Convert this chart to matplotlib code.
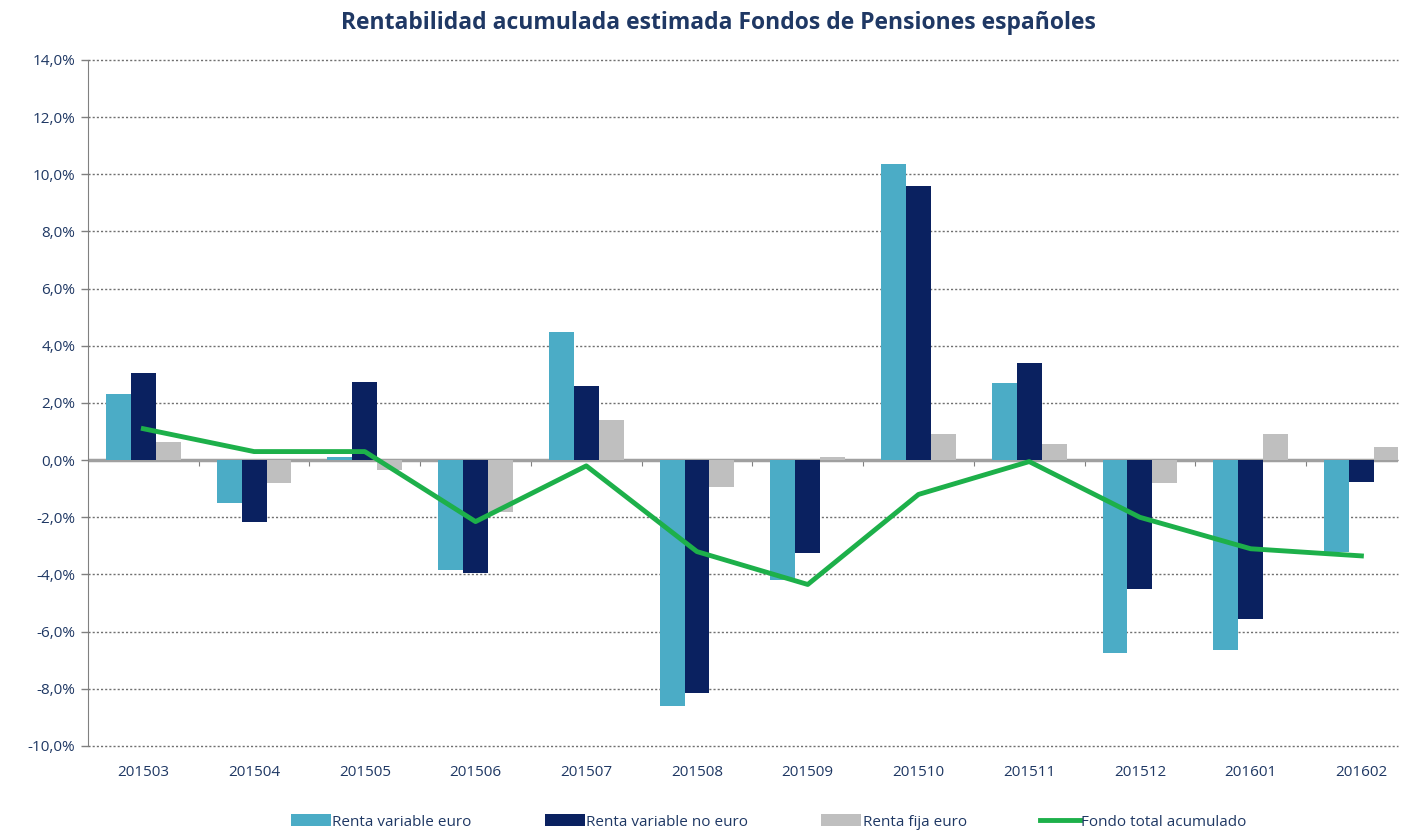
import numpy as np
import matplotlib
matplotlib.use("Agg")
import matplotlib.pyplot as plt
from matplotlib.ticker import FuncFormatter

# data (percent)
meses = ["201503", "201504", "201505", "201506", "201507", "201508",
         "201509", "201510", "201511", "201512", "201601", "201602"]
rv_euro = [2.3, -1.5, 0.1, -3.85, 4.5, -8.6, -4.2, 10.35, 2.7, -6.75, -6.65, -3.2]
rv_no_euro = [3.05, -2.15, 2.75, -3.95, 2.6, -8.15, -3.25, 9.6, 3.4, -4.5, -5.55, -0.75]
rf_euro = [0.65, -0.8, -0.35, -1.8, 1.4, -0.95, 0.12, 0.9, 0.55, -0.8, 0.9, 0.45]
fondo_total = [1.1, 0.3, 0.3, -2.15, -0.2, -3.2, -4.35, -1.2, -0.05, -2.0, -3.1, -3.35]

c_light = "#4BACC6"
c_navy = "#0A2160"
c_gray = "#BFBFBF"
c_green = "#1DB04A"
c_text = "#1F3864"

plt.rcParams['font.family'] = ['Open Sans', 'DejaVu Sans']

fig = plt.figure(figsize=(14.03, 8.32), dpi=100)
ax = fig.add_axes([0.0627, 0.1034, 0.9337, 0.8245])

x = np.arange(len(meses))
w = 0.225
b1 = ax.bar(x - w, rv_euro, w, color=c_light, label="Renta variable euro", zorder=3)
b2 = ax.bar(x, rv_no_euro, w, color=c_navy, label="Renta variable no euro", zorder=3)
b3 = ax.bar(x + w, rf_euro, w, color=c_gray, label="Renta fija euro", zorder=3)
ln, = ax.plot(x, fondo_total, color=c_green, lw=3.5, label="Fondo total acumulado", zorder=4)

ax.set_xlim(-0.5, 11.33)
ax.set_ylim(-10, 14)
ax.set_yticks(np.arange(-10, 15, 2))
ax.yaxis.set_major_formatter(FuncFormatter(lambda v, p: f"{v:.1f}%".replace(".", ",")))
ax.set_xticks(x)
ax.set_xticklabels(meses)
ax.tick_params(axis='x', length=0, pad=14, labelsize=11, labelcolor=c_text)
ax.tick_params(axis='y', length=5, width=1, color="#808080", labelsize=11, labelcolor=c_text, pad=4)

ax.grid(axis='y', linestyle=(0, (1.5, 1.5)), color="#707070", lw=1, zorder=0)
for gl in ax.get_ygridlines():
    gl.set_clip_on(False)
ax.axhline(0, color="#A0A0A0", lw=2.5, zorder=2)
for s in ["top", "right", "bottom"]:
    ax.spines[s].set_visible(False)
ax.spines["left"].set_color("#808080")

# small ticks between categories on the zero line
zx = ax.secondary_xaxis(10 / 24)
zx.set_xticks(x[:-1] + 0.5)
zx.tick_params(axis='x', direction='out', length=4, color="#808080", labelbottom=False, labeltop=False)
zx.spines["bottom"].set_visible(False)
zx.spines["top"].set_visible(False)

fig.text(0.512, 0.972, "Rentabilidad acumulada estimada Fondos de Pensiones españoles",
         ha="center", va="center", fontsize=16.5, fontweight="bold", color=c_text)

leg = fig.legend([b1, b2, b3, ln],
                 ["Renta variable euro", "Renta variable no euro", "Renta fija euro", "Fondo total acumulado"],
                 loc="center", bbox_to_anchor=(0.548, 0.012), ncol=4, frameon=False,
                 fontsize=11, handlelength=2.6, handleheight=0.8, handletextpad=0.1,
                 columnspacing=4.8, labelcolor=c_text)

fig.savefig("out.png", dpi=100)
